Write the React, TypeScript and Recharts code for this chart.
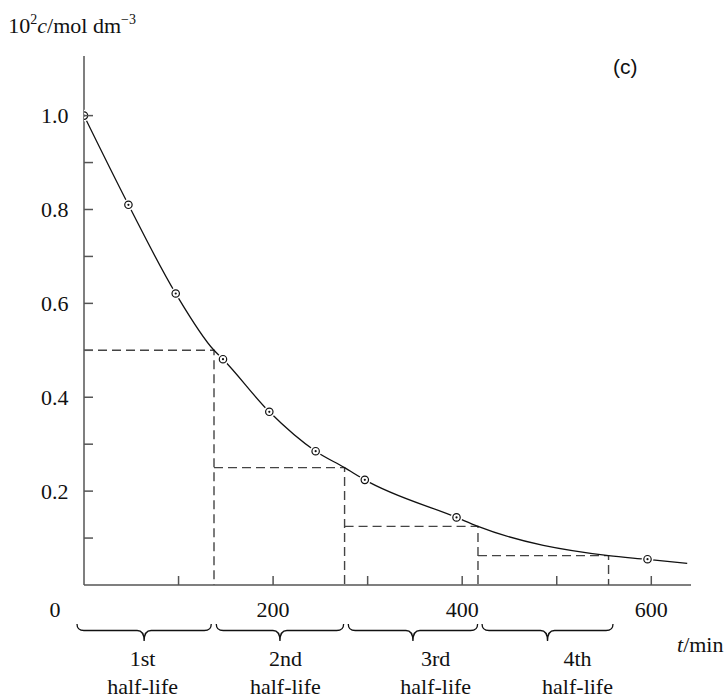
import React from "react";
import { ComposedChart, Line, Scatter, XAxis, YAxis } from "recharts";

// measured points: t/min and 10^2 c / mol dm^-3
const pointTimes = [0, 47, 97, 147, 196, 245, 297, 394, 596];
const pointConc = [1.0, 0.81, 0.621, 0.481, 0.369, 0.285, 0.224, 0.144, 0.055];

// smooth decay curve
const curveTimes = [0, 47, 97, 137.5, 147, 196, 245, 275.6, 297, 394, 416.7, 554.8, 596, 638];
const curveConc = [1.0, 0.81, 0.621, 0.5, 0.481, 0.369, 0.285, 0.25, 0.224, 0.144, 0.125, 0.0625, 0.0547, 0.046];

// successive half-lives (dashed construction)
const halfLifeTimes = [137.5, 275.6, 416.7, 554.8];
const halfLifeConc = [0.5, 0.25, 0.125, 0.0625];

// braces under the axis
const braceStart = [-7.4, 139.9, 279.5, 421];
const braceEnd = [134.6, 274.6, 416.3, 559.5];
const braceLabelAt = [62, 213, 372, 522];
const braceLabels = ["1st", "2nd", "3rd", "4th"];

const xTicks = [0, 100, 200, 300, 400, 500, 600];
const yTicks = [0.1, 0.2, 0.3, 0.4, 0.5, 0.6, 0.7, 0.8, 0.9, 1.0];

const W = 728;
const H = 698;
const X_MAX = 642;
const Y_MAX = 1.127;
const PLOT_LEFT = 84;
const PLOT_RIGHT = 691;
const PLOT_BOTTOM = 585;
const PX_PER_T = (PLOT_RIGHT - PLOT_LEFT) / X_MAX;

const AXIS = "#555";
const INK = "#111";
const SERIF = "'Liberation Serif', 'Times New Roman', serif";

const points = pointTimes.map((t, i) => ({ t, c: pointConc[i] }));
const curve = curveTimes.map((t, i) => ({ t, c: curveConc[i] }));
const steps = halfLifeTimes.map((t, i) => [
  { t: i === 0 ? 0 : halfLifeTimes[i - 1], c: halfLifeConc[i] },
  { t, c: halfLifeConc[i] },
  { t, c: 0 },
]);
const braceMids = braceStart.map((s, i) => (s + braceEnd[i]) / 2);

const YTick = (props: any) => {
  const { x, y, payload } = props;
  const v = payload.value as number;
  const major = Math.round(v * 10) % 2 === 0;
  return (
    <g>
      <line x1={x} x2={x + 9} y1={y} y2={y} stroke={AXIS} strokeWidth={1.5} />
      {major && (
        <text x={x - 15.5} y={y + 7.5} textAnchor="end" fontFamily={SERIF} fontSize={22} fill={INK}>
          {v.toFixed(1)}
        </text>
      )}
    </g>
  );
};

const XTick = (props: any) => {
  const { x, payload } = props;
  const v = payload.value as number;
  const shown = v % 200 === 0;
  return (
    <g>
      {v > 0 && <line x1={x} x2={x} y1={PLOT_BOTTOM} y2={PLOT_BOTTOM - 9} stroke={AXIS} strokeWidth={1.5} />}
      {shown && (
        <text x={v === 0 ? x - 29 : x} y={PLOT_BOTTOM + 31.5} textAnchor="middle" fontFamily={SERIF} fontSize={22} fill={INK}>
          {v}
        </text>
      )}
    </g>
  );
};

const BraceTick = (props: any) => {
  const { x, index } = props;
  const half = ((braceEnd[index] - braceStart[index]) * PX_PER_T) / 2;
  const x1 = x - half;
  const x2 = x + half;
  const y0 = 624;
  const y1 = 630.5;
  const y2 = 641;
  const d = `M${x1},${y0} Q${x1},${y1} ${x1 + 7},${y1} L${x - 7},${y1} Q${x},${y1} ${x},${y2} Q${x},${y1} ${x + 7},${y1} L${x2 - 7},${y1} Q${x2},${y1} ${x2},${y0}`;
  const lx = x + (braceLabelAt[index] - braceMids[index]) * PX_PER_T;
  return (
    <g>
      <path d={d} fill="none" stroke={INK} strokeWidth={1.3} />
      <text x={lx} y={665.5} textAnchor="middle" fontFamily={SERIF} fontSize={22} fill={INK}>
        {braceLabels[index]}
      </text>
      <text x={lx} y={693.5} textAnchor="middle" fontFamily={SERIF} fontSize={22} fill={INK}>
        half-life
      </text>
    </g>
  );
};

const Ring = (props: any) => {
  const { cx, cy } = props;
  return (
    <g>
      <circle cx={cx} cy={cy} r={5.8} fill="#fff" />
      <circle cx={cx} cy={cy} r={3.7} fill="#fff" stroke={INK} strokeWidth={1.2} />
      <circle cx={cx} cy={cy} r={1.1} fill={INK} />
    </g>
  );
};

export default function App() {
  return (
    <div style={{ position: "absolute", left: 0, top: 0, width: W, height: H, background: "#fff" }}>
      <ComposedChart width={W} height={H} margin={{ top: 56, right: W - PLOT_RIGHT, bottom: 0, left: 24 }}>
        <XAxis
          xAxisId={0}
          dataKey="t"
          type="number"
          domain={[0, X_MAX]}
          ticks={xTicks}
          interval={0}
          height={30}
          tickSize={0}
          tickMargin={0}
          tickLine={false}
          axisLine={{ stroke: AXIS, strokeWidth: 1.5 }}
          tick={<XTick />}
          allowDataOverflow
        />
        <XAxis
          xAxisId="brace"
          dataKey="t"
          type="number"
          domain={[0, X_MAX]}
          ticks={braceMids}
          interval={0}
          height={83}
          tickSize={0}
          tickMargin={0}
          tickLine={false}
          axisLine={false}
          tick={<BraceTick />}
          allowDataOverflow
        />
        <YAxis
          dataKey="c"
          type="number"
          domain={[0, Y_MAX]}
          ticks={yTicks}
          interval={0}
          width={60}
          tickSize={0}
          tickMargin={0}
          tickLine={false}
          axisLine={{ stroke: AXIS, strokeWidth: 1.5 }}
          tick={<YTick />}
          allowDataOverflow
        />
        {steps.map((s, i) => (
          <Line
            key={i}
            data={s}
            dataKey="c"
            type="linear"
            stroke="#444"
            strokeWidth={1.4}
            strokeDasharray="9 5"
            dot={false}
            isAnimationActive={false}
          />
        ))}
        <Line data={curve} dataKey="c" type="monotone" stroke={INK} strokeWidth={1.3} dot={false} isAnimationActive={false} />
        <Scatter data={points} dataKey="c" shape={<Ring />} isAnimationActive={false} />
      </ComposedChart>
      <svg width={W} height={H} style={{ position: "absolute", left: 0, top: 0, pointerEvents: "none" }}>
        <text x={8.3} y={33} fontFamily={SERIF} fontSize={22} fill={INK}>
          10
          <tspan fontSize={14} dy={-9}>2</tspan>
          <tspan fontStyle="italic" dy={9}>c</tspan>
          <tspan>/mol dm</tspan>
          <tspan fontSize={14} dy={-9}>−3</tspan>
        </text>
        <text x={613} y={74} fontFamily="'Liberation Sans', Arial, sans-serif" fontSize={21} fill={INK}>
          (c)
        </text>
        <text x={677} y={651.5} fontFamily={SERIF} fontSize={22} fill={INK}>
          <tspan fontStyle="italic">t</tspan>/min
        </text>
      </svg>
    </div>
  );
}
